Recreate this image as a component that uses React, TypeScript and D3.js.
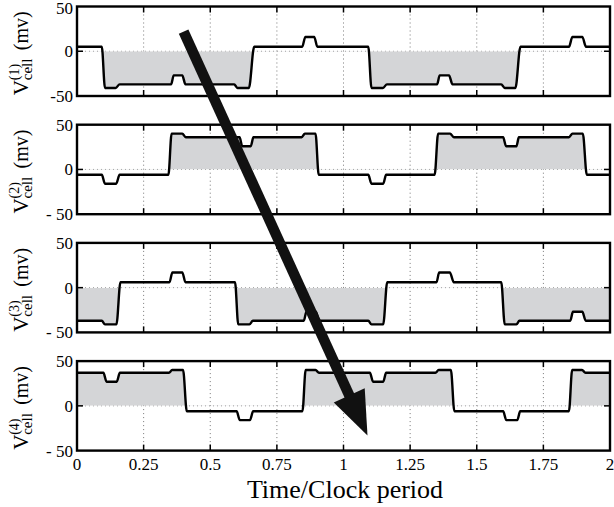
import * as d3 from "d3";

// time axis (in clock periods)
const timeTicks = [0, 0.25, 0.5, 0.75, 1, 1.25, 1.5, 1.75, 2];
const timeTickLabels = ["0", "0.25", "0.5", "0.75", "1", "1.25", "1.5", "1.75", "2"];

const vTicks = [50, 0, -50];
const vTickLabels = [
  ["50", "0", "-50"],
  ["50", "0", "- 50"],
  ["50", "0", "- 50"],
  ["50", "0", "- 50"],
];

// V_cell traces, [time, mV] breakpoints
const cell1: [number, number][] = [
  [0, 5], [0.093, 5], [0.105, -41], [0.145, -41], [0.16, -37], [0.353, -37], [0.363, -27], [0.395, -27],
  [0.407, -37], [0.59, -37], [0.602, -41], [0.645, -41], [0.665, 5], [0.845, 5], [0.857, 16], [0.89, 16],
  [0.902, 5], [1.093, 5], [1.105, -41], [1.148, -41], [1.163, -37], [1.351, -37], [1.361, -27], [1.396, -27],
  [1.409, -37], [1.592, -37], [1.605, -41], [1.645, -41], [1.664, 5], [1.846, 5], [1.859, 16], [1.896, 16],
  [1.91, 5], [2, 5],
];
const cell2: [number, number][] = [
  [0, -6], [0.093, -6], [0.105, -16], [0.147, -16], [0.16, -6], [0.343, -6], [0.355, 40], [0.395, 40],
  [0.408, 36], [0.61, 36], [0.62, 26], [0.652, 26], [0.662, 36], [0.843, 36], [0.855, 40], [0.895, 40],
  [0.907, -6], [1.093, -6], [1.105, -16], [1.149, -16], [1.16, -6], [1.342, -6], [1.355, 40], [1.4, 40],
  [1.414, 36], [1.599, 36], [1.61, 26], [1.649, 26], [1.658, 36], [1.846, 36], [1.859, 40], [1.898, 40],
  [1.913, -6], [2, -6],
];
const cell3: [number, number][] = [
  [0, -37], [0.093, -37], [0.105, -41], [0.148, -41], [0.163, 6], [0.347, 6], [0.358, 17], [0.395, 17],
  [0.407, 6], [0.593, 6], [0.605, -41], [0.647, -41], [0.66, -37], [0.851, -37], [0.861, -27], [0.896, -27],
  [0.909, -37], [1.093, -37], [1.105, -41], [1.149, -41], [1.164, 6], [1.349, 6], [1.359, 17], [1.399, 17],
  [1.414, 6], [1.592, 6], [1.605, -41], [1.649, -41], [1.66, -37], [1.851, -37], [1.861, -27], [1.896, -27],
  [1.909, -37], [2, -37],
];
const cell4: [number, number][] = [
  [0, 37], [0.099, 37], [0.111, 27], [0.149, 27], [0.161, 37], [0.345, 37], [0.357, 40], [0.398, 40],
  [0.412, -6], [0.599, -6], [0.611, -16], [0.649, -16], [0.661, -6], [0.846, -6], [0.858, 40], [0.895, 40],
  [0.908, 37], [1.099, 37], [1.111, 27], [1.149, 27], [1.16, 37], [1.345, 37], [1.357, 40], [1.403, 40],
  [1.416, -6], [1.599, -6], [1.611, -16], [1.652, -16], [1.663, -6], [1.846, -6], [1.858, 40], [1.895, 40],
  [1.908, 37], [2, 37],
];
const cells = [cell1, cell2, cell3, cell4];
const cellNames = ["(1)", "(2)", "(3)", "(4)"];
// which side of zero is shaded
const shadeSide = [-1, 1, -1, 1];

// the big arrow: from panel 1 to panel 4
const arrowFrom = { t: 0.4, panel: 0, v: 22 };
const arrowTo = { t: 1.09, panel: 3, v: -33 };

const W = 614;
const H = 507;
const serif = "'Times New Roman', Times, 'Liberation Serif', serif";

export default function App() {
  const x = d3.scaleLinear().domain([0, 2]).range([77, 610]);
  const panelTop = (i: number) => 6.5 + i * 118.2;
  const panelH = 89.5;
  const yFor = (i: number) =>
    d3.scaleLinear().domain([-50, 50]).range([panelTop(i) + panelH, panelTop(i)]);

  const arrowStart = [x(arrowFrom.t), yFor(arrowFrom.panel)(arrowFrom.v)];
  const tip = [x(arrowTo.t), yFor(arrowTo.panel)(arrowTo.v)];
  const dx = tip[0] - arrowStart[0];
  const dy = tip[1] - arrowStart[1];
  const len = Math.hypot(dx, dy);
  const ux = dx / len, uy = dy / len;
  const nx = -uy, ny = ux;
  const headLen = 44, headHalf = 17;
  const base = [tip[0] - ux * headLen, tip[1] - uy * headLen];

  return (
    <svg width={W} height={H} style={{ position: "absolute", left: 0, top: 0, background: "#fff" }}>
      <defs>
        {cells.map((_, i) => {
          const y = yFor(i);
          const y0 = shadeSide[i] > 0 ? y(50) : y(0);
          const y1 = shadeSide[i] > 0 ? y(0) : y(-50);
          return (
            <clipPath key={i} id={`shade${i}`}>
              <rect x={x(0)} y={y0} width={x(2) - x(0)} height={y1 - y0} />
            </clipPath>
          );
        })}
      </defs>
      <g style={{ fontFamily: serif }}>
        {cells.map((data, i) => {
          const y = yFor(i);
          const line = d3.line<[number, number]>().x((d) => x(d[0])).y((d) => y(d[1])).curve(d3.curveMonotoneX);
          const area = d3
            .area<[number, number]>()
            .x((d) => x(d[0]))
            .y0(y(0))
            .y1((d) => y(d[1]))
            .curve(d3.curveMonotoneX);
          const top = panelTop(i);
          const bottom = top + panelH;
          const cy = (top + bottom) / 2;
          return (
            <g key={i}>
              {/* dotted grid */}
              {timeTicks.slice(1, -1).map((t) => (
                <line key={t} x1={x(t)} x2={x(t)} y1={top} y2={bottom} stroke="#777" strokeWidth={1} strokeDasharray="1,3" />
              ))}
              <line x1={x(0)} x2={x(2)} y1={y(0)} y2={y(0)} stroke="#999" strokeWidth={1} strokeDasharray="1,3" />
              <path d={area(data) || ""} fill="#d4d5d7" clipPath={`url(#shade${i})`} />
              <path d={line(data) || ""} fill="none" stroke="#000" strokeWidth={2.4} strokeLinejoin="round" />
              {/* ticks */}
              {timeTicks.map((t) => (
                <g key={t}>
                  <line x1={x(t)} x2={x(t)} y1={top} y2={top + 6} stroke="#000" strokeWidth={1.5} />
                  <line x1={x(t)} x2={x(t)} y1={bottom} y2={bottom - 6} stroke="#000" strokeWidth={1.5} />
                </g>
              ))}
              <line x1={x(0)} x2={x(0) + 6} y1={y(0)} y2={y(0)} stroke="#000" strokeWidth={1.5} />
              <line x1={x(2)} x2={x(2) - 6} y1={y(0)} y2={y(0)} stroke="#000" strokeWidth={1.5} />
              <rect x={x(0)} y={top} width={x(2) - x(0)} height={panelH} fill="none" stroke="#000" strokeWidth={2.4} />
              {vTicks.map((v, k) => (
                <text key={v} x={73} y={y(v) + (i === 0 && v === 50 ? 1.5 : 0)} dy="0.35em" textAnchor="end" fontSize={17}>
                  {vTickLabels[i][k]}
                </text>
              ))}
              <g transform={`translate(28,${cy}) rotate(-90)`}>
                <text x={-44} y={0} fontSize={21}>V</text>
                <text x={-29} y={-9} fontSize={14}>{cellNames[i]}</text>
                <text x={-29} y={4} fontSize={15}>cell</text>
                <text x={1} y={0} fontSize={20}>(mv)</text>
              </g>
            </g>
          );
        })}
        {timeTicks.map((t, k) => (
          <text key={t} x={x(t)} y={470} textAnchor="middle" fontSize={17}>
            {timeTickLabels[k]}
          </text>
        ))}
        <text x={345} y={498} textAnchor="middle" fontSize={26}>Time/Clock period</text>
      </g>
      {/* arrow */}
      <line
        x1={arrowStart[0]}
        y1={arrowStart[1]}
        x2={base[0] + ux * 2}
        y2={base[1] + uy * 2}
        stroke="#111"
        strokeWidth={10.5}
      />
      <polygon
        points={`${tip[0]},${tip[1]} ${base[0] + nx * headHalf},${base[1] + ny * headHalf} ${base[0] - nx * headHalf},${base[1] - ny * headHalf}`}
        fill="#111"
      />
    </svg>
  );
}
